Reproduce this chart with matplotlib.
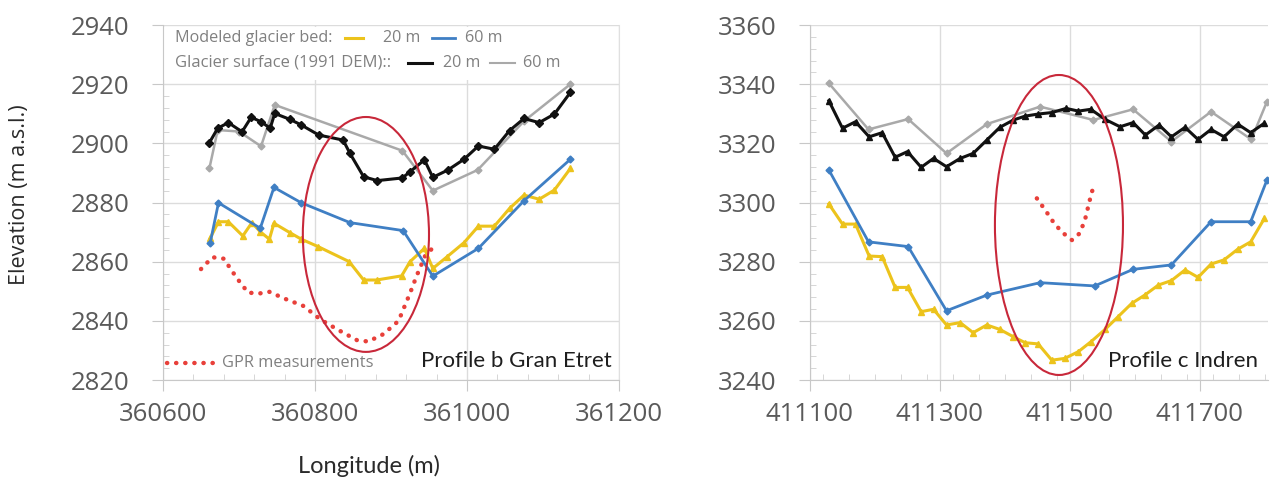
import matplotlib.pyplot as plt
from matplotlib.patches import Ellipse, Rectangle
from matplotlib.lines import Line2D
from matplotlib.ticker import MultipleLocator

# --- Profile b Gran Etret ---
b_surf20_x = [360661, 360672, 360686, 360704, 360716, 360729, 360741, 360747, 360767, 360782,
              360805, 360837, 360846, 360864, 360882, 360915, 360925, 360944, 360955, 360975,
              360996, 361015, 361036, 361056, 361075, 361095, 361115, 361136]
b_surf20_y = [2900.2, 2905.1, 2907.0, 2903.9, 2908.8, 2907.3, 2905.1, 2910.1, 2908.1, 2906.2,
              2902.8, 2901.1, 2896.6, 2888.7, 2887.4, 2888.3, 2890.4, 2894.4, 2888.5, 2891.0,
              2894.6, 2899.1, 2898.0, 2904.3, 2908.4, 2907.0, 2909.9, 2917.2]
b_surf60_x = [360661, 360672, 360700, 360729, 360747, 360915, 360955, 361014, 361075, 361136]
b_surf60_y = [2891.5, 2904.5, 2904.0, 2899.0, 2913.0, 2897.5, 2884.0, 2891.0, 2907.5, 2920.0]
b_bed60_x = [360662, 360673, 360728, 360746, 360782, 360846, 360916, 360955, 361015, 361075, 361136]
b_bed60_y = [2866.2, 2879.9, 2871.3, 2885.1, 2879.9, 2873.2, 2870.5, 2855.1, 2864.5, 2880.6, 2894.6]
b_bed20_x = [360662, 360673, 360686, 360705, 360717, 360728, 360740, 360746, 360767, 360782,
             360804, 360845, 360864, 360881, 360914, 360925, 360944, 360955, 360974, 360996,
             361015, 361036, 361056, 361075, 361095, 361115, 361136]
b_bed20_y = [2867.9, 2873.5, 2873.5, 2868.7, 2873.2, 2870.1, 2867.6, 2873.0, 2869.8, 2867.6,
             2865.1, 2860.0, 2853.8, 2853.8, 2855.2, 2860.0, 2864.5, 2857.7, 2861.7, 2866.4,
             2872.0, 2872.0, 2878.0, 2882.5, 2881.1, 2884.2, 2891.5]
b_gpr_x = [360650, 360665, 360680, 360697, 360712, 360728, 360740, 360760, 360785, 360807,
           360830, 360855, 360870, 360890, 360910, 360918, 360925, 360930, 360936, 360945, 360960]
b_gpr_y = [2857.5, 2861.5, 2861.0, 2854.5, 2849.5, 2849.3, 2849.8, 2847.5, 2845.0, 2840.5,
           2837.0, 2833.5, 2833.0, 2835.5, 2840.0, 2845.0, 2849.3, 2852.7, 2856.6, 2862.0, 2866.0]
b_ellipse = (360867, 2869.2, 166, 79.4)  # centre x, centre y, width, height

# --- Profile c Indren ---
c_surf20_x = [411129, 411150, 411170, 411191, 411211, 411231, 411250, 411271, 411290, 411310,
              411331, 411351, 411372, 411392, 411413, 411431, 411451, 411472, 411494, 411513,
              411532, 411554, 411577, 411597, 411616, 411637, 411656, 411677, 411697, 411717,
              411737, 411758, 411778, 411799]
c_surf20_y = [3334.4, 3325.1, 3327.3, 3322.2, 3323.6, 3315.3, 3317.2, 3311.9, 3314.9, 3312.1,
              3314.9, 3316.6, 3321.1, 3325.4, 3327.9, 3329.2, 3329.9, 3330.4, 3331.8, 3330.9,
              3331.5, 3328.1, 3325.6, 3327.0, 3322.8, 3326.2, 3322.2, 3325.4, 3321.3, 3324.7,
              3322.2, 3326.5, 3323.6, 3326.8]
c_surf60_x = [411129, 411190, 411251, 411310, 411372, 411454, 411536, 411597, 411656, 411717, 411779, 411803]
c_surf60_y = [3340.3, 3324.7, 3328.2, 3316.6, 3326.5, 3332.4, 3327.9, 3331.5, 3320.6, 3330.7, 3321.3, 3334.1]
c_bed60_x = [411129, 411190, 411251, 411310, 411372, 411454, 411538, 411597, 411656, 411717, 411778, 411803]
c_bed60_y = [3311.0, 3286.7, 3285.1, 3263.4, 3268.7, 3272.9, 3271.8, 3277.4, 3278.9, 3293.5, 3293.5, 3307.6]
c_bed20_x = [411129, 411150, 411170, 411191, 411211, 411231, 411250, 411271, 411290, 411310,
             411331, 411351, 411372, 411392, 411413, 411431, 411451, 411472, 411492, 411513,
             411532, 411554, 411574, 411595, 411615, 411636, 411656, 411677, 411697, 411717,
             411737, 411758, 411778, 411799]
c_bed20_y = [3299.5, 3292.7, 3292.7, 3281.9, 3281.7, 3271.3, 3271.3, 3263.1, 3263.9, 3258.6,
             3259.4, 3256.0, 3258.6, 3257.1, 3254.6, 3252.6, 3252.2, 3246.7, 3247.3, 3249.6,
             3252.9, 3257.1, 3261.4, 3265.9, 3268.7, 3272.1, 3273.6, 3277.2, 3274.7, 3279.2,
             3280.6, 3284.2, 3286.7, 3294.6]
c_gpr_x = [411449, 411462, 411474, 411487, 411503, 411515, 411523, 411528, 411533, 411538]
c_gpr_y = [3301.4, 3297.4, 3293.5, 3290.1, 3287.3, 3289.6, 3294.1, 3298.6, 3303.1, 3306.5]
c_ellipse = (411483, 3292.4, 197, 101.4)

YELLOW = '#ecc31c'
BLUE = '#3f7fc4'
BLACK = '#111111'
GREY = '#a9a9a9'
RED = '#e8403a'
ELL = '#c8283a'
TICK_TXT = '#5a5a5a'
LEG_TXT = '#808080'
FONT = 'Open Sans'

plt.rcParams['font.family'] = [FONT, 'DejaVu Sans']

fig = plt.figure(figsize=(12.74, 4.86), dpi=100)
ax_b = fig.add_axes([163 / 1274, 106 / 486, 456 / 1274, 355 / 486])
ax_c = fig.add_axes([810 / 1274, 106 / 486, 458.25 / 1274, 355 / 486])


def style_axes(ax, xlim, xticks, ylim):
    ax.set_xlim(*xlim)
    ax.set_ylim(*ylim)
    ax.set_xticks(xticks)
    ax.set_yticks(range(ylim[0], ylim[1] + 1, 20))
    ax.xaxis.set_minor_locator(MultipleLocator(40))
    ax.yaxis.set_minor_locator(MultipleLocator(4))
    ax.grid(True, which='major', color='#dcdcdc', lw=1.0)
    ax.set_axisbelow(True)
    for s in ['top', 'right']:
        ax.spines[s].set_visible(False)
    for s in ['left', 'bottom']:
        ax.spines[s].set_color('#c8c8c8')
    ax.tick_params(which='major', direction='out', length=8, color='#c8c8c8',
                   labelsize=18.5, labelcolor=TICK_TXT)
    ax.tick_params(axis='x', which='major', pad=8)
    ax.tick_params(axis='y', which='major', pad=16)
    ax.tick_params(which='minor', direction='in', length=4, color='#d0d0d0')
    ax.ticklabel_format(useOffset=False, style='plain')


def draw_profile(ax, s20x, s20y, s20m, s20ms, s60x, s60y, b60x, b60y, b20x, b20y, gx, gy, ell):
    ax.plot(gx, gy, color=RED, lw=3.2, ls=(0, (0.05, 2.0)), dash_capstyle='round', zorder=3)
    ax.plot(s60x, s60y, color=GREY, lw=1.8, marker='D', ms=3.5, zorder=3)
    ax.plot(b20x, b20y, color=YELLOW, lw=2.2, marker='^', ms=5, zorder=4)
    ax.plot(b60x, b60y, color=BLUE, lw=2.0, marker='D', ms=3.5, zorder=4)
    ax.plot(s20x, s20y, color=BLACK, lw=2.2, marker=s20m, ms=s20ms, zorder=5)
    cx, cy, w, h = ell
    ax.add_patch(Ellipse((cx, cy), w, h, fill=False, edgecolor=ELL, lw=1.5, zorder=6))


style_axes(ax_b, (360600, 361200), [360600, 360800, 361000, 361200], (2820, 2940))
style_axes(ax_c, (411100, 411805), [411100, 411300, 411500, 411700], (3240, 3360))
ax_b.spines['right'].set_visible(True)
ax_b.spines['right'].set_color('#e0e0e0')

draw_profile(ax_b, b_surf20_x, b_surf20_y, 'D', 4, b_surf60_x, b_surf60_y,
             b_bed60_x, b_bed60_y, b_bed20_x, b_bed20_y, b_gpr_x, b_gpr_y, b_ellipse)
draw_profile(ax_c, c_surf20_x, c_surf20_y, '^', 5, c_surf60_x, c_surf60_y,
             c_bed60_x, c_bed60_y, c_bed20_x, c_bed20_y, c_gpr_x, c_gpr_y, c_ellipse)

# legend block drawn by hand, as in the original figure
ax_b.add_patch(Rectangle((0.002, 0.845), 0.99, 0.15, transform=ax_b.transAxes,
                         facecolor='white', edgecolor='none', zorder=1))
tr = ax_b.transAxes
leg_fs = 11.6
ax_b.text(0.026, 0.963, 'Modeled glacier bed:', transform=tr, fontsize=leg_fs, color=LEG_TXT, va='center')
ax_b.add_line(Line2D([0.399, 0.439], [0.963, 0.963], transform=tr, color=YELLOW, lw=2.2))
ax_b.text(0.482, 0.963, '20 m', transform=tr, fontsize=leg_fs, color=LEG_TXT, va='center')
ax_b.add_line(Line2D([0.590, 0.640], [0.963, 0.963], transform=tr, color=BLUE, lw=2.0))
ax_b.text(0.662, 0.963, '60 m', transform=tr, fontsize=leg_fs, color=LEG_TXT, va='center')
ax_b.text(0.026, 0.893, 'Glacier surface (1991 DEM)::', transform=tr, fontsize=leg_fs + 0.4,
          color=LEG_TXT, va='center')
ax_b.add_line(Line2D([0.537, 0.590], [0.893, 0.893], transform=tr, color=BLACK, lw=2.2))
ax_b.text(0.614, 0.893, '20 m', transform=tr, fontsize=leg_fs, color=LEG_TXT, va='center')
ax_b.add_line(Line2D([0.717, 0.772], [0.893, 0.893], transform=tr, color=GREY, lw=1.5))
ax_b.text(0.789, 0.893, '60 m', transform=tr, fontsize=leg_fs, color=LEG_TXT, va='center')

ax_b.add_line(Line2D([0.008, 0.118], [0.048, 0.048], transform=tr, color=RED, lw=3.2,
                     ls=(0, (0.05, 2.0)), dash_capstyle='round'))
ax_b.text(0.129, 0.048, 'GPR measurements', transform=tr, fontsize=11.8, color=LEG_TXT, va='center')

ax_b.text(0.985, 0.054, 'Profile b Gran Etret', transform=tr, fontsize=16,
          color='#1e1e1e', ha='right', va='center', family=['Lato', 'DejaVu Sans'])
ax_c.text(0.978, 0.054, 'Profile c Indren', transform=ax_c.transAxes, fontsize=16,
          color='#1e1e1e', ha='right', va='center', family=['Lato', 'DejaVu Sans'])

fig.text(20 / 1274, 1 - 195 / 486, 'Elevation (m a.s.l.)', rotation=90, fontsize=15.5,
         color='#2a2a2a', ha='center', va='center')
fig.text(369 / 1274, 1 - 466 / 486, 'Longitude (m)', fontsize=17, color='#2a2a2a',
         ha='center', va='center', family=['Lato', 'DejaVu Sans'])

fig.savefig('out.png', dpi=100)
